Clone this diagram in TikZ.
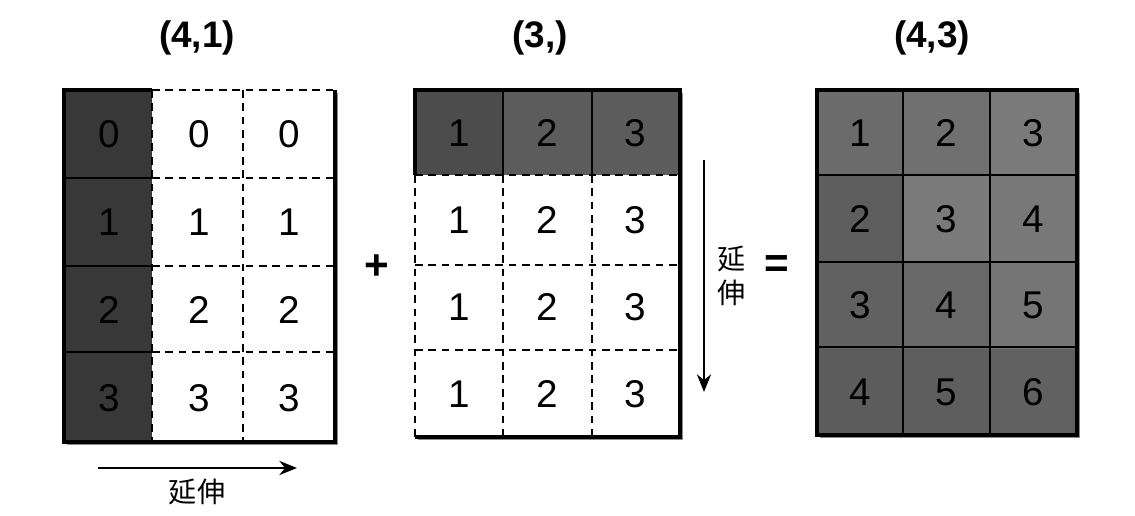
\documentclass[tikz,border=0pt]{standalone}
\usepackage{fontspec}
\setmainfont{Liberation Sans}
\newfontfamily\cjk{Noto Sans CJK SC}
\usetikzlibrary{arrows.meta}
\tikzset{
  num/.style={font=\fontsize{11}{13}\selectfont},
  title/.style={font=\bfseries\fontsize{10.5}{12}\selectfont},
  op/.style={font=\bfseries\fontsize{12}{14}\selectfont},
  cn/.style={font=\cjk\fontsize{8}{9.7}\selectfont, align=center},
  dashline/.style={line width=0.5pt, dash pattern=on 2.2pt off 1.6pt},
  edge/.style={line width=0.9pt},
  shadow/.style={fill=black!45},
  arr/.style={line width=0.8pt, -{Stealth[length=5pt,width=4pt]}}
}
\begin{document}
\begin{tikzpicture}[x=0.01cm,y=-0.01cm]
\useasboundingbox (0,0) rectangle (1135,516);
% titles
\node[title] (t41) at (197,38) {(4,1)};
\node[title] (t3) at (540,38) {(3,)};
\node[title] (t43) at (932,38) {(4,3)};
% left array, one column stretched
\fill[shadow] (67,93) rectangle (338,445);
\fill[white] (64,90) rectangle (335,442);
\fill[black!78] (64,90) rectangle (152,442);
\foreach \y in {178,266,352} {
  \draw[thin] (64,\y) -- (152,\y);
  \draw[dashline] (152,\y) -- (335,\y);
}
\foreach \x in {152,243}
  \draw[dashline] (\x,90) -- (\x,442);
\draw[dashline] (152,90) -- (335,90);
\draw[edge] (152,90) -- (64,90) -- (64,442) -- (335,442) -- (335,90);
\foreach \r in {0,...,3}
  \foreach \c in {0,1,2}
    \node[num] (l\r\c) at ({109+90.3*\c},{134+88*\r}) {\r};
\node[op] (plus) at (377,267) {+};
% middle array, one row stretched
\fill[shadow] (418,93) rectangle (683,440);
\fill[white] (415,90) rectangle (680,437);
\fill[black!70] (415,90) rectangle (503,175);
\fill[black!64] (503,90) rectangle (680,175);
\foreach \x in {503,592} {
  \draw[thin] (\x,90) -- (\x,175);
  \draw[dashline] (\x,175) -- (\x,437);
}
\foreach \y in {175,265,350}
  \draw[dashline] (415,\y) -- (680,\y);
\draw[dashline] (415,175) -- (415,437);
\draw[edge] (415,175) -- (415,90) -- (680,90) -- (680,437) -- (415,437);
\foreach \r in {0,...,3}
  \foreach \c/\v in {0/1,1/2,2/3}
    \node[num] (m\r\c) at ({459+88.3*\c},{133+87*\r}) {\v};
\node[op] (eq) at (777,267) {=};
% result
\fill[shadow] (820,93) rectangle (1080,438);
\foreach \r/\c/\s in {0/0/58,0/1/56,0/2/52,1/0/63,1/1/52,1/2/53,
                      2/0/62,2/1/59,2/2/54,3/0/64,3/1/63,3/2/62}
  \fill[black!\s] ({817+86.7*\c},{90+86.3*\r}) rectangle ({817+86.7*(\c+1)},{90+86.3*(\r+1)});
\foreach \x in {903,990}
  \draw[thin] (\x,90) -- (\x,435);
\foreach \y in {175,262,347}
  \draw[thin] (817,\y) -- (1077,\y);
\draw[edge] (817,90) rectangle (1077,435);
\foreach \r in {0,...,3}
  \foreach \c in {0,1,2} {
    \pgfmathtruncatemacro\val{\r+\c+1}
    \node[num] (o\r\c) at ({860+86.7*\c},{133+86.3*\r}) {\val};
  }
% stretch arrows
\coordinate (ha) at (98,468);
\coordinate (hb) at (297,468);
\draw[arr] (ha) -- (hb);
\node[cn] (hl) at (197,492) {延伸};
\coordinate (va) at (704,160);
\coordinate (vb) at (704,392);
\draw[arr] (va) -- (vb);
\node[cn] (vl) at (732,276) {延\\伸};
\end{tikzpicture}
\end{document}
